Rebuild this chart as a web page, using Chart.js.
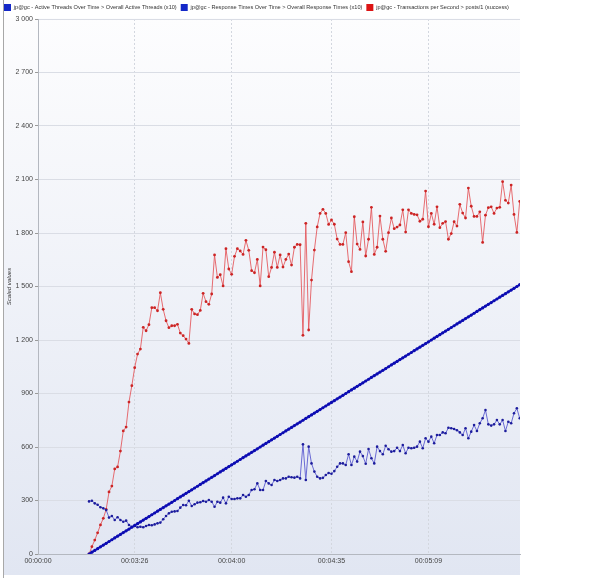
<!DOCTYPE html>
<html>
<head>
<meta charset="utf-8">
<script src="https://cdn.jsdelivr.net/npm/chart.js@4.4.0/dist/chart.umd.min.js"></script>
<style>
  html, body { margin: 0; padding: 0; background: #fff; }
  #wrap { width: 605px; height: 578px; }
</style>
</head>
<body>
<div id="wrap"><canvas id="scaledChart" width="605" height="578"></canvas></div>
<script>
// ---- data ----
const seriesNames = [
  'jp@gc - Active Threads Over Time > Overall Active Threads (x10)',
  'jp@gc - Response Times Over Time > Overall Response Times (x10)',
  'jp@gc - Transactions per Second > posts/1 (success)'
];

// elapsed time in seconds, one sample per second
const elapsedSeconds = [
  190,191,192,193,194,195,196,197,198,199,200,201,202,203,204,205,206,207,208,209,
  210,211,212,213,214,215,216,217,218,219,220,221,222,223,224,225,226,227,228,229,
  230,231,232,233,234,235,236,237,238,239,240,241,242,243,244,245,246,247,248,249,
  250,251,252,253,254,255,256,257,258,259,260,261,262,263,264,265,266,267,268,269,
  270,271,272,273,274,275,276,277,278,279,280,281,282,283,284,285,286,287,288,289,
  290,291,292,293,294,295,296,297,298,299,300,301,302,303,304,305,306,307,308,309,
  310,311,312,313,314,315,316,317,318,319,320,321,322,323,324,325,326,327,328,329,
  330,331,332,333,334,335,336,337,338,339,340,341
];

const activeThreads = [
  0,10,20,30,40,50,60,70,80,90,100,110,120,130,140,150,160,170,180,190,
  200,210,220,230,240,250,260,270,280,290,300,310,320,330,340,350,360,370,380,390,
  400,410,420,430,440,450,460,470,480,490,500,510,520,530,540,550,560,570,580,590,
  600,610,620,630,640,650,660,670,680,690,700,710,720,730,740,750,760,770,780,790,
  800,810,820,830,840,850,860,870,880,890,900,910,920,930,940,950,960,970,980,990,
  1000,1010,1020,1030,1040,1050,1060,1070,1080,1090,1100,1110,1120,1130,1140,1150,1160,1170,1180,1190,
  1200,1210,1220,1230,1240,1250,1260,1270,1280,1290,1300,1310,1320,1330,1340,1350,1360,1370,1380,1390,
  1400,1410,1420,1430,1440,1450,1460,1470,1480,1490,1500,1510
];

const responseTimes = [
  295,299,284,276,262,256,247,204,213,191,
  206,191,181,187,163,153,157,150,153,150,
  157,163,161,166,172,176,195,213,228,237,
  239,241,260,275,273,299,269,279,288,290,
  297,293,303,293,265,293,288,316,284,321,
  308,308,312,312,331,321,331,359,363,396,
  359,359,409,396,387,415,409,415,424,424,
  433,430,428,433,424,615,415,602,508,462,
  433,424,427,443,454,450,465,489,508,508,
  499,559,499,546,518,574,549,506,589,537,
  508,602,577,559,607,587,574,577,596,577,
  611,565,596,593,596,602,630,593,649,630,
  658,621,667,667,682,677,708,705,701,694,
  682,667,705,649,686,723,690,733,761,807,
  727,720,727,751,727,751,690,742,733,789,
  817,761
];

const transactions = [
  0,41,78,119,163,200,250,348,381,477,
  488,577,690,712,852,944,1045,1121,1149,1271,
  1252,1286,1381,1381,1364,1465,1372,1308,1269,1280,
  1280,1288,1239,1224,1205,1181,1372,1346,1342,1366,
  1462,1415,1400,1458,1677,1551,1566,1503,1712,1598,
  1568,1669,1712,1699,1680,1759,1703,1589,1577,1652,
  1503,1721,1706,1555,1607,1692,1607,1677,1609,1652,
  1682,1620,1720,1736,1734,1226,1854,1256,1536,1704,
  1834,1910,1933,1910,1848,1873,1849,1766,1736,1736,
  1802,1639,1583,1891,1738,1708,1862,1671,1765,1944,
  1680,1720,1895,1765,1697,1802,1884,1824,1833,1845,
  1930,1805,1930,1910,1904,1902,1866,1877,2035,1835,
  1910,1849,1947,1830,1854,1864,1765,1797,1863,1839,
  1961,1912,1884,2052,1950,1893,1893,1919,1747,1900,
  1942,1947,1910,1940,1944,2088,1983,1968,2069,1904,
  1803,1977
];

// x axis: first label sits on the origin
const xRange = [172.1, 341.1];
const xTickSeconds = [172.1, 206, 240, 275, 309];
const xTickLabels = ['00:00:00', '00:03:26', '00:04:00', '00:04:35', '00:05:09'];

const yRange = [0, 3000];
const yStep = 300;

// ---- helpers ----
const toPoints = (values) => values.map((v, i) => ({ x: elapsedSeconds[i], y: v }));
const spaceThousands = (v) => String(v).replace(/\B(?=(\d{3})+(?!\d))/g, ' ');
const FONT = "'Liberation Sans', Arial, sans-serif";

// fond en dégradé du panneau + liseré gauche
const panelBackground = {
  id: 'panelBackground',
  beforeInit(chart) {
    // légende plus compacte, comme JMeter
    const fit = chart.legend.fit;
    chart.legend.fit = function () { fit.call(this); this.height = 19; };
  },
  beforeDraw(chart) {
    const { ctx, chartArea } = chart;
    const top = chartArea.top - 1;
    const bottom = chartArea.bottom + 21;
    const g = ctx.createLinearGradient(0, top, 0, bottom);
    g.addColorStop(0, '#fdfdfe');
    g.addColorStop(1, '#e1e6f2');
    ctx.save();
    ctx.fillStyle = g;
    ctx.fillRect(4, top, chartArea.right - 4, bottom - top);
    ctx.strokeStyle = '#a8a8a8';
    ctx.lineWidth = 1;
    ctx.beginPath();
    ctx.moveTo(3.5, 0);
    ctx.lineTo(3.5, chart.height);
    ctx.stroke();
    ctx.restore();
  }
};

const legendColors = ['#1428c8', '#1428c8', '#dc1414'];

new Chart(document.getElementById('scaledChart'), {
  type: 'line',
  data: {
    datasets: [
      {
        label: seriesNames[0],
        data: toPoints(activeThreads),
        borderColor: '#1616c4',
        backgroundColor: legendColors[0],
        borderWidth: 2,
        pointRadius: 1.6,
        pointBackgroundColor: '#0c0cb0',
        pointBorderWidth: 0,
        tension: 0
      },
      {
        label: seriesNames[1],
        data: toPoints(responseTimes),
        borderColor: '#6a6ad4',
        backgroundColor: legendColors[1],
        borderWidth: 1,
        pointRadius: 1.3,
        pointBackgroundColor: '#1c1c9c',
        pointBorderWidth: 0,
        tension: 0
      },
      {
        label: seriesNames[2],
        data: toPoints(transactions),
        borderColor: 'rgba(228, 84, 88, 0.85)',
        backgroundColor: legendColors[2],
        borderWidth: 1,
        pointRadius: 1.4,
        pointBackgroundColor: '#cc2424',
        pointBorderWidth: 0,
        tension: 0
      }
    ]
  },
  options: {
    responsive: false,
    animation: false,
    layout: { padding: { left: 0, right: 85, top: 0, bottom: 0 } },
    plugins: {
      legend: {
        display: true,
        position: 'top',
        align: 'start',
        labels: {
          boxWidth: 7,
          boxHeight: 7,
          padding: 4,
          color: '#333',
          font: { family: FONT, size: 5.6 },
          generateLabels: (chart) => chart.data.datasets.map((ds, i) => ({
            text: ds.label,
            fillStyle: legendColors[i],
            strokeStyle: legendColors[i],
            lineWidth: 0,
            fontColor: '#333',
            datasetIndex: i,
            hidden: false
          }))
        }
      },
      tooltip: { enabled: false }
    },
    scales: {
      x: {
        type: 'linear',
        min: xRange[0],
        max: xRange[1],
        afterBuildTicks: (scale) => { scale.ticks = xTickSeconds.map(v => ({ value: v })); },
        afterFit: (scale) => { scale.height = 24; },
        ticks: {
          autoSkip: false,
          maxRotation: 0,
          padding: 3,
          color: '#444',
          font: { family: FONT, size: 7 },
          callback: (value, index) => xTickLabels[index]
        },
        grid: { color: '#d3d7df', drawTicks: false },
        border: { color: '#b4b8c0', dash: [2, 2] }
      },
      y: {
        min: yRange[0],
        max: yRange[1],
        afterFit: (scale) => { scale.width = 38; },
        ticks: {
          stepSize: yStep,
          padding: 2,
          color: '#444',
          font: { family: FONT, size: 7 },
          callback: (v) => spaceThousands(v)
        },
        grid: { color: '#dadde5', tickLength: 3, tickColor: '#9a9a9a' },
        border: { color: '#b4b8c0' },
        title: {
          display: true,
          text: 'Scaled values',
          color: '#333',
          padding: { top: 6, bottom: 0 },
          font: { family: FONT, size: 6, style: 'italic' }
        }
      }
    }
  },
  plugins: [panelBackground]
});
</script>
</body>
</html>
